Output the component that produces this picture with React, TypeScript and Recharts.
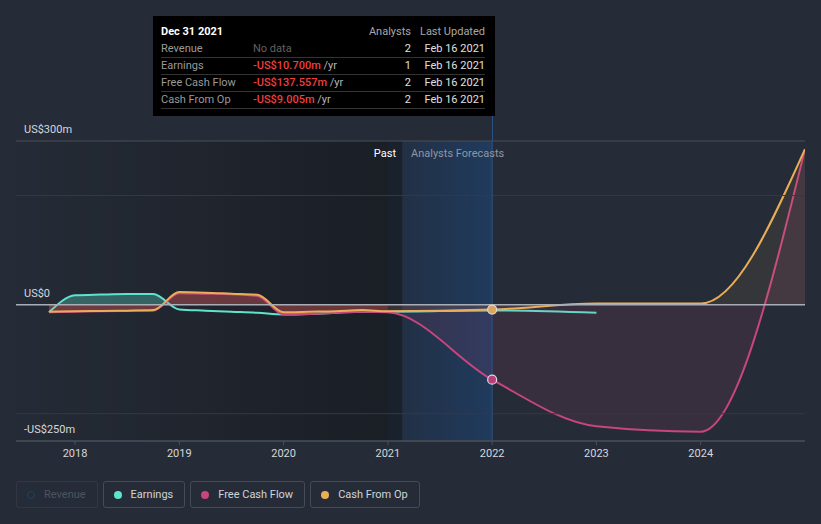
import React from 'react';
import {
  ComposedChart, Area, XAxis, YAxis, ReferenceArea, ReferenceLine, ReferenceDot,
} from 'recharts';

// ---- data (US$ m) ----
const periods = [2017.75, 2018, 2018.25, 2018.5, 2018.75, 2019, 2019.25, 2019.5, 2019.75, 2020, 2020.25, 2020.5, 2020.75, 2021, 2022, 2023, 2024, 2025];
const earnings = [-14, 17, 18.5, 19.5, 19.5, -9, -11, -13, -15, -18, -17, -15, -13, -13, -10.7, -15, null, null];
const freeCashFlow = [-14, -13, -12, -11.5, -11, 21, 20, 19, 16, -18, -17, -15, -13, -14, -137.557, -223, -233, 285];
const cashFromOp = [-13, -12, -11.5, -11, -10, 23, 22, 20, 18, -14, -13, -12, -10, -12, -9.005, 2, 2, 285];
const xTicks = [2018, 2019, 2020, 2021, 2022, 2023, 2024];
const yTicks = [300, 0, -250];
const yTickText = ['US$300m', 'US$0', '-US$250m'];
const gridValues = [200, -200];
const xDomain = [2017.434, 2025];
const yDomain = [-250, 300];
const pastEnd = 2021;
const forecastBandStart = 2021.14;
const cursorX = 2022;
const cursorIndex = periods.indexOf(cursorX);

const tooltipRows = [
  { label: 'Revenue', value: null, analysts: 2, updated: 'Feb 16 2021' },
  { label: 'Earnings', value: '-US$10.700m', analysts: 1, updated: 'Feb 16 2021' },
  { label: 'Free Cash Flow', value: '-US$137.557m', analysts: 2, updated: 'Feb 16 2021' },
  { label: 'Cash From Op', value: '-US$9.005m', analysts: 2, updated: 'Feb 16 2021' },
];

const legendItems = [
  { label: 'Revenue', color: '#1c4266', active: false },
  { label: 'Earnings', color: '#5fe3cf', active: true },
  { label: 'Free Cash Flow', color: '#c8457e', active: true },
  { label: 'Cash From Op', color: '#e9ae57', active: true },
];

const data = periods.map((x, i) => ({
  x,
  earnings: earnings[i],
  fcf: freeCashFlow[i],
  cfo: cashFromOp[i],
  fcfPast: x <= pastEnd ? freeCashFlow[i] : null,
}));

const TEAL = '#5fe3cf';
const PINK = '#c8457e';
const ORANGE = '#e9ae57';
const FONT = 'Roboto, "Noto Sans", sans-serif';
const zeroOffset = yDomain[1] / (yDomain[1] - yDomain[0]);

const XTick = (props: any) => {
  const { x, y, payload } = props;
  return (
    <text x={x} y={y + 10} fill="#d5d8dc" fontSize={11} fontFamily={FONT} textAnchor="middle">
      {payload.value}
    </text>
  );
};

const yLabel = (text: string) => (props: any) => {
  const vb = props.viewBox || {};
  return (
    <text x={(vb.x || 0) + 8} y={(vb.y || 0) - 8} fill="#d5d8dc" fontSize={11} fontFamily={FONT}>
      {text}
    </text>
  );
};

export default function App() {
  return (
    <div style={{ position: 'absolute', left: 0, top: 0, width: 821, height: 524, background: '#262c37', overflow: 'hidden', fontFamily: FONT }}>
      <ComposedChart width={821} height={524} data={data} margin={{ top: 141, right: 16, left: 16, bottom: 0 }}>
        <defs>
          <linearGradient id="pastGrad" x1="0" y1="0" x2="1" y2="0">
            <stop offset="0%" stopColor="#252b36" />
            <stop offset="100%" stopColor="#1a1e25" />
          </linearGradient>
          <linearGradient id="blueGrad" x1="0" y1="0" x2="1" y2="0">
            <stop offset="0%" stopColor="#223045" />
            <stop offset="100%" stopColor="#203b5d" />
          </linearGradient>
          <linearGradient id="tealGrad" gradientUnits="userSpaceOnUse" x1="0" y1="141" x2="0" y2="441">
            <stop offset={0} stopColor={TEAL} stopOpacity={0.32} />
            <stop offset={zeroOffset} stopColor={TEAL} stopOpacity={0.32} />
            <stop offset={zeroOffset} stopColor={TEAL} stopOpacity={0} />
            <stop offset={1} stopColor={TEAL} stopOpacity={0} />
          </linearGradient>
        </defs>
        <XAxis
          dataKey="x" type="number" domain={xDomain} ticks={xTicks} allowDataOverflow
          height={83} tick={<XTick />} tickSize={4} axisLine={{ stroke: '#4a505a' }} tickLine={{ stroke: '#4a505a' }}
        />
        <YAxis hide type="number" domain={yDomain} ticks={yTicks} allowDataOverflow />
        <ReferenceArea x1={xDomain[0]} x2={pastEnd} fill="url(#pastGrad)" fillOpacity={1} />
        <ReferenceArea x1={pastEnd} x2={forecastBandStart} fill="#19212c" fillOpacity={1} />
        <ReferenceArea x1={forecastBandStart} x2={cursorX} fill="url(#blueGrad)" fillOpacity={1} />
        <ReferenceLine y={yTicks[0]} stroke="#484e58" strokeWidth={1} label={yLabel(yTickText[0])} />
        {gridValues.map((v) => (
          <ReferenceLine key={v} y={v} stroke="#343a44" strokeWidth={1} />
        ))}
        <ReferenceLine y={yTicks[2]} stroke="#4a505a" strokeWidth={1} label={yLabel(yTickText[2])} />
        <ReferenceLine x={cursorX} stroke="#2b5384" strokeWidth={1} />
        <Area type="monotone" dataKey="fcfPast" stroke="none" fill="#e0404a" fillOpacity={0.28} baseValue={0} isAnimationActive={false} dot={false} activeDot={false} />
        <Area type="monotone" dataKey="earnings" stroke={TEAL} strokeWidth={2} fill="url(#tealGrad)" fillOpacity={1} baseValue={0} isAnimationActive={false} dot={false} activeDot={false} />
        <Area type="monotone" dataKey="fcf" stroke={PINK} strokeWidth={2} fill={PINK} fillOpacity={0.11} baseValue={0} isAnimationActive={false} dot={false} activeDot={false} />
        <Area type="monotone" dataKey="cfo" stroke={ORANGE} strokeWidth={2} fill={ORANGE} fillOpacity={0.08} baseValue={0} isAnimationActive={false} dot={false} activeDot={false} />
        <ReferenceLine y={yTicks[1]} stroke="#a9adb5" strokeWidth={1.5} label={yLabel(yTickText[1])} />
        <ReferenceDot x={cursorX} y={freeCashFlow[cursorIndex]} r={4.5} fill="#b8407a" stroke="#d8dbe2" strokeWidth={1.2} />
        <ReferenceDot x={cursorX} y={cashFromOp[cursorIndex]} r={4.5} fill="#dba55a" stroke="#d8dbe2" strokeWidth={1.2} />
      </ComposedChart>

      {/* cursor line above plot */}
      <div style={{ position: 'absolute', left: 491.5, top: 116, width: 1, height: 25, background: '#2b5384' }} />

      {/* Past / Forecast labels */}
      <div style={{ position: 'absolute', right: 821 - 396, top: 147, fontSize: 11, color: '#ffffff', whiteSpace: 'nowrap' }}>Past</div>
      <div style={{ position: 'absolute', left: 411, top: 147, fontSize: 11, color: '#8d97a5', whiteSpace: 'nowrap' }}>Analysts Forecasts</div>

      {/* tooltip */}
      <div style={{ position: 'absolute', left: 153, top: 16, width: 342, height: 100, background: '#000000' }}>
        <div style={{ position: 'absolute', left: 8, top: 9, fontSize: 11, fontWeight: 700, color: '#ffffff' }}>Dec 31 2021</div>
        <div style={{ position: 'absolute', right: 342 - 258, top: 9, fontSize: 11, color: '#a8a8a8' }}>Analysts</div>
        <div style={{ position: 'absolute', right: 10, top: 9, fontSize: 11, color: '#a8a8a8' }}>Last Updated</div>
        {tooltipRows.map((r, i) => (
          <div key={r.label} style={{ position: 'absolute', left: 8, right: 10, top: 25 + i * 17, height: 16, borderBottom: '1px solid #333333', fontSize: 11, lineHeight: '16px' }}>
            <span style={{ position: 'absolute', left: 0, color: '#9a9a9a' }}>{r.label}</span>
            <span style={{ position: 'absolute', left: 92, whiteSpace: 'nowrap' }}>
              {r.value === null
                ? <span style={{ color: '#616161' }}>No data</span>
                : <><span style={{ color: '#ee3f3f', fontWeight: 500 }}>{r.value}</span><span style={{ color: '#b5b5b5' }}> /yr</span></>}
            </span>
            <span style={{ position: 'absolute', right: 74, color: '#e0e0e0' }}>{r.analysts}</span>
            <span style={{ position: 'absolute', right: 0, color: '#e0e0e0' }}>{r.updated}</span>
          </div>
        ))}
      </div>

      {/* legend */}
      <div style={{ position: 'absolute', left: 16, top: 481, display: 'flex', gap: 5 }}>
        {legendItems.map((it) => (
          <div key={it.label} style={{ height: 25, border: `1px solid ${it.active ? '#464c56' : '#313844'}`, borderRadius: 3, display: 'flex', alignItems: 'center', padding: '0 11px 0 10px', fontSize: 11, color: it.active ? '#d0d4d9' : '#4c5460', whiteSpace: 'nowrap' }}>
            <span style={{ width: it.active ? 8 : 6, height: it.active ? 8 : 6, borderRadius: '50%', background: it.active ? it.color : 'transparent', border: it.active ? 'none' : `1.5px solid ${it.color}`, marginRight: 9, display: 'inline-block' }} />
            {it.label}
          </div>
        ))}
      </div>
    </div>
  );
}
